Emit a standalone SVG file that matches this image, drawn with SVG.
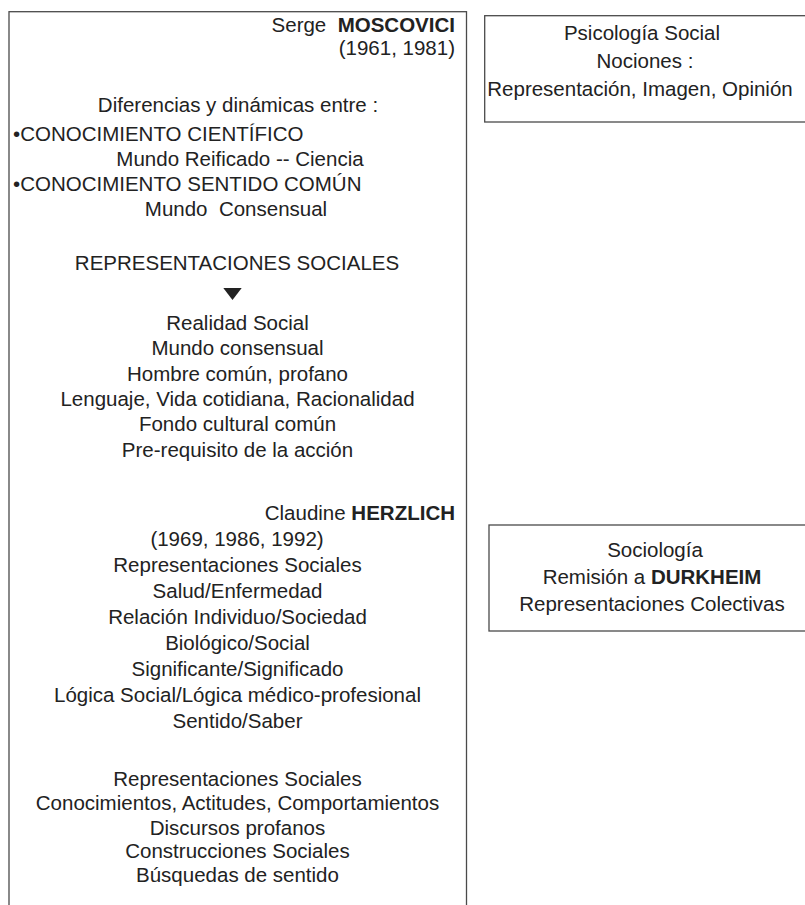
<svg xmlns="http://www.w3.org/2000/svg" width="805" height="905" viewBox="0 0 805 905">
<style>
.box{fill:none;stroke:#4a4a4a;stroke-width:1.3}
.t{font-family:"Liberation Sans",Arial,sans-serif;font-size:20.5px;fill:#222}
.c{text-anchor:middle}
.r{text-anchor:end}
.b{font-weight:bold}
</style>
<rect width="805" height="905" fill="#fff"/>
<g id="node-moscovici">
<rect class="box" x="9" y="11.7" width="457.5" height="1000"/>
<text class="t r" x="455" y="31.5" xml:space="preserve">Serge  <tspan class="b">MOSCOVICI</tspan></text>
<text class="t r" x="455" y="55">(1961, 1981)</text>
<text class="t c" x="238" y="112">Diferencias y dinámicas entre :</text>
<text class="t" x="13" y="141">•CONOCIMIENTO CIENTÍFICO</text>
<text class="t c" x="240" y="166">Mundo Reificado -- Ciencia</text>
<text class="t" x="13" y="191">•CONOCIMIENTO SENTIDO COMÚN</text>
<text class="t c" x="236" y="216" xml:space="preserve">Mundo  Consensual</text>
<text class="t c" x="237" y="269.5">REPRESENTACIONES SOCIALES</text>
<polygon points="223.3,288 241.7,288 232.5,300" fill="#222"/>
<text class="t c" x="237.5" y="330">Realidad Social</text>
<text class="t c" x="237.5" y="355.3">Mundo consensual</text>
<text class="t c" x="237.5" y="380.6">Hombre común, profano</text>
<text class="t c" x="237.5" y="405.9">Lenguaje, Vida cotidiana, Racionalidad</text>
<text class="t c" x="237.5" y="431.2">Fondo cultural común</text>
<text class="t c" x="237.5" y="456.5">Pre-requisito de la acción</text>
<text class="t r" x="455" y="519.5">Claudine <tspan class="b">HERZLICH</tspan></text>
<text class="t c" x="237" y="545.5">(1969, 1986, 1992)</text>
<text class="t c" x="237.5" y="571.5">Representaciones Sociales</text>
<text class="t c" x="237.5" y="597.5">Salud/Enfermedad</text>
<text class="t c" x="237.5" y="623.5">Relación Individuo/Sociedad</text>
<text class="t c" x="237.5" y="649.5">Biológico/Social</text>
<text class="t c" x="237.5" y="675.5">Significante/Significado</text>
<text class="t c" x="237.5" y="701.5">Lógica Social/Lógica médico-profesional</text>
<text class="t c" x="237.5" y="727.5">Sentido/Saber</text>
<text class="t c" x="237.5" y="785.5">Representaciones Sociales</text>
<text class="t c" x="237.5" y="810">Conocimientos, Actitudes, Comportamientos</text>
<text class="t c" x="237.5" y="834.5">Discursos profanos</text>
<text class="t c" x="237.5" y="858">Construcciones Sociales</text>
<text class="t c" x="237.5" y="882">Búsquedas de sentido</text>
</g>
<g id="node-psicologia">
<rect class="box" x="484.7" y="15.7" width="400" height="106.3"/>
<text class="t c" x="642" y="40">Psicología Social</text>
<text class="t c" x="645" y="67.5">Nociones :</text>
<text class="t c" x="640" y="96">Representación, Imagen, Opinión</text>
</g>
<g id="node-sociologia">
<rect class="box" x="489" y="525" width="400" height="106"/>
<text class="t c" x="655" y="557">Sociología</text>
<text class="t c" x="652" y="584">Remisión a <tspan class="b">DURKHEIM</tspan></text>
<text class="t c" x="652" y="611">Representaciones Colectivas</text>
</g>
<g id="connectors"/>
</svg>
